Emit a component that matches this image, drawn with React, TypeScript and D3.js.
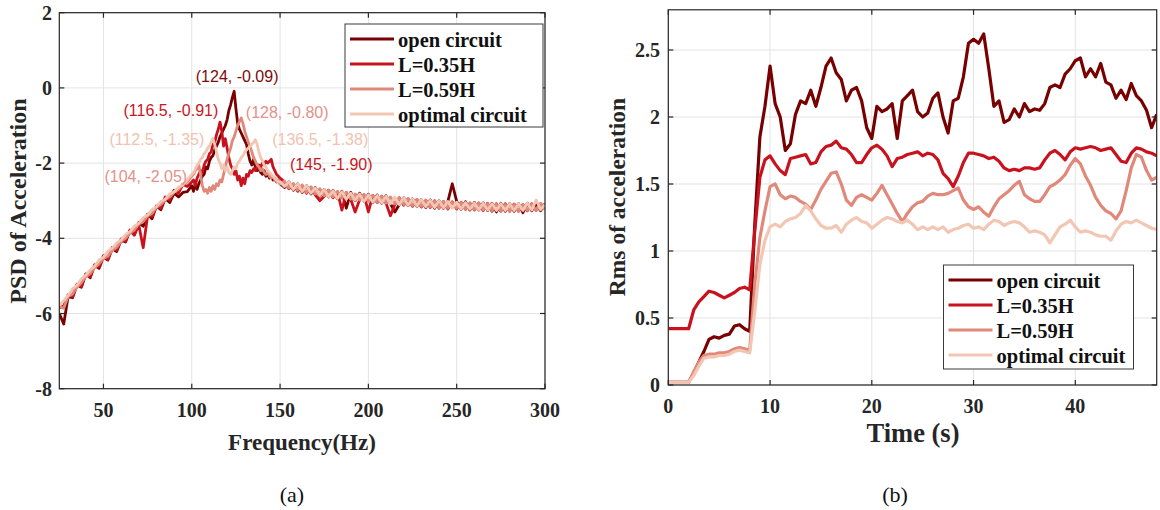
import React from "react";
import * as d3 from "d3";

// ---------- DATA ----------
const SERIES_NAMES = ["open circuit", "L=0.35H", "L=0.59H", "optimal circuit"];
const COLORS = ["#780000", "#c8121e", "#e0897b", "#f3c6b4"];
const LABEL_COLORS = ["#7a0c0c", "#c8161e", "#e3918a", "#f2c2b0"];

// Frequency grid (Hz): 25..97.5 step 2.5, 100..150 step 1, 152.5..300 step 2.5
const FREQ = [
  ...d3.range(25, 100, 2.5),
  ...d3.range(100, 151, 1),
  ...d3.range(152.5, 300.01, 2.5),
];

const PSD_OPEN = [
  -6.0, -6.28, -5.55, -5.58, -5.25, -5.3, -4.95, -5.05, -4.72, -4.8,
  -4.5, -4.58, -4.28, -4.35, -4.05, -4.1, -3.8, -3.9, -3.58, -3.68,
  -3.36, -3.48, -3.14, -3.24, -2.94, -3.05, -2.8, -2.9, -2.78, -2.76,
  -2.6, -2.75, -2.55, -2.7, -2.55, -2.45, -2.35, -2.3, -2.1, -2.15,
  -1.95, -1.85, -1.8, -1.65, -1.55, -1.45, -1.3, -1.2, -1.1, -1.0,
  -0.85, -0.6, -0.45, -0.25, -0.09, -0.55, -0.95, -1.1, -1.2, -1.3,
  -1.4, -1.5, -1.75, -1.95, -2.05, -1.9, -2.1, -2.2, -2.15, -2.25,
  -2.3, -2.2, -2.35, -2.3, -2.4, -2.35, -2.45, -2.4, -2.5, -2.45,
  -2.55,
  -2.65, -2.5, -2.72, -2.55, -2.78, -2.6, -2.82, -2.65, -2.88, -2.7,
  -2.9, -2.73, -2.95, -2.75, -3.2, -2.78, -3.0, -2.8, -3.02, -2.83,
  -3.05, -2.85, -3.07, -2.87, -3.08, -3.3, -3.1, -2.92, -3.13, -2.95,
  -3.15, -2.97, -3.18, -2.98, -3.2, -3.0, -3.2, -3.02, -2.55, -3.02,
  -3.23, -3.03, -3.25, -3.05, -3.25, -3.06, -3.26, -3.07, -3.3, -3.07,
  -3.28, -3.08, -3.28, -3.08, -3.32, -3.07, -3.27, -3.07, -3.27, -3.08,
];

const PSD_L035 = [
  -5.85, -5.8, -5.5, -5.55, -5.22, -5.28, -4.96, -5.02, -4.7, -4.76,
  -4.46, -4.56, -4.24, -4.32, -4.02, -4.08, -3.78, -3.92, -3.64, -4.25,
  -3.4, -3.42, -3.15, -3.2, -2.9, -2.98, -2.72, -2.8, -2.56, -2.62,
  -2.5, -2.45, -2.6, -2.4, -2.3, -2.2, -2.25, -2.05, -1.95, -1.9,
  -1.75, -1.7, -1.5, -1.45, -1.25, -1.1, -0.91, -1.15, -1.55, -1.35,
  -1.6, -1.85, -2.05, -2.15, -2.3, -2.2, -2.45, -2.35, -2.6, -2.4,
  -2.55, -2.3, -2.35, -2.2, -2.25, -2.15, -2.2, -2.1, -2.05, -2.1,
  -2.0, -2.05, -1.95, -2.0, -1.95, -1.9, -2.1, -2.2, -2.3, -2.35,
  -2.4,
  -2.5, -2.68, -2.56, -2.75, -2.6, -2.8, -2.65, -2.85, -3.0, -2.88,
  -2.72, -2.92, -2.76, -3.25, -2.78, -2.96, -3.3, -2.98, -2.84, -3.3,
  -2.86, -3.05, -2.88, -3.07, -3.4, -3.1, -2.92, -3.12, -2.95, -3.15,
  -2.97, -3.17, -2.99, -3.18, -3.0, -3.2, -3.02, -3.22, -3.03, -3.22,
  -3.04, -3.23, -3.06, -3.25, -3.06, -3.26, -3.07, -3.28, -3.08, -3.28,
  -3.08, -3.28, -3.09, -3.28, -3.1, -3.27, -3.08, -3.26, -3.08, -3.22,
];

const PSD_L059 = [
  -5.82, -5.86, -5.55, -5.48, -5.3, -5.18, -5.02, -4.94, -4.78, -4.68,
  -4.54, -4.48, -4.32, -4.24, -4.08, -4.0, -3.86, -3.78, -3.62, -3.56,
  -3.4, -3.34, -3.18, -3.1, -2.98, -2.9, -2.78, -2.7, -2.56, -2.5,
  -2.35, -2.3, -2.2, -2.15, -2.05, -2.3, -2.6, -2.75, -2.7, -2.8,
  -2.65, -2.75, -2.6, -2.7, -2.55, -2.6, -2.45, -2.5, -2.3, -2.1,
  -1.9, -1.75, -1.6, -1.4, -1.3, -1.15, -1.0, -0.9, -0.8, -0.95,
  -1.15, -1.3, -1.45, -1.55, -1.7, -1.85, -1.95, -2.05, -2.1, -2.2,
  -2.15, -2.25, -2.3, -2.25, -2.35, -2.4, -2.35, -2.45, -2.5, -2.45,
  -2.55,
  -2.48, -2.66, -2.54, -2.72, -2.58, -2.78, -2.63, -2.82, -2.68, -2.87,
  -2.72, -2.9, -2.76, -2.93, -2.78, -2.96, -2.82, -2.98, -2.84, -3.02,
  -2.86, -3.04, -2.88, -3.06, -2.9, -3.08, -2.92, -3.1, -2.94, -3.13,
  -2.97, -3.15, -2.99, -3.17, -3.01, -3.19, -3.02, -3.2, -3.04, -3.2,
  -3.05, -3.22, -3.07, -3.24, -3.07, -3.25, -3.08, -3.26, -3.09, -3.27,
  -3.1, -3.27, -3.1, -3.27, -3.1, -3.26, -3.09, -3.26, -3.08, -3.24,
];

const PSD_OPTIMAL = [
  -5.78, -5.66, -5.52, -5.34, -5.25, -5.08, -4.98, -4.84, -4.74, -4.58,
  -4.5, -4.34, -4.26, -4.12, -4.04, -3.9, -3.82, -3.68, -3.6, -3.45,
  -3.38, -3.24, -3.16, -3.02, -2.96, -2.82, -2.76, -2.64, -2.58, -2.44,
  -2.3, -2.25, -2.15, -2.05, -2.0, -1.9, -1.85, -1.75, -1.7, -1.6,
  -1.55, -1.45, -1.35, -1.5, -1.7, -1.9, -2.0, -2.15, -2.05, -2.2,
  -2.1, -2.25, -2.3, -2.2, -2.1, -2.15, -2.0, -1.95, -1.85, -1.8,
  -1.7, -1.65, -1.6, -1.55, -1.5, -1.45, -1.38, -1.5, -1.7, -1.85,
  -1.95, -2.05, -2.1, -2.2, -2.25, -2.3, -2.35, -2.4, -2.45, -2.5,
  -2.5,
  -2.62, -2.5, -2.7, -2.55, -2.76, -2.6, -2.8, -2.66, -2.86, -2.7,
  -2.9, -2.74, -2.94, -2.76, -2.96, -2.8, -2.99, -2.82, -3.02, -2.84,
  -3.04, -2.86, -3.06, -2.88, -3.08, -2.9, -3.1, -2.92, -3.12, -2.95,
  -3.14, -2.97, -3.16, -2.99, -3.18, -3.0, -3.19, -3.02, -3.2, -3.04,
  -3.22, -3.05, -3.23, -3.06, -3.24, -3.07, -3.25, -3.08, -3.26, -3.08,
  -3.26, -3.08, -3.26, -3.08, -3.26, -3.07, -3.25, -2.98, -3.24, -3.1,
];

// Peak annotations on panel (a)
const ANNOT_FREQ = [124, 116.5, 128, 112.5, 136.5, 104, 145];
const ANNOT_VAL = [-0.09, -0.91, -0.8, -1.35, -1.38, -2.05, -1.9];
const ANNOT_SERIES = [0, 1, 2, 3, 3, 2, 1];
const ANNOT_TEXT = ["(124, -0.09)", "(116.5, -0.91)", "(128, -0.80)", "(112.5, -1.35)", "(136.5, -1.38)", "(104, -2.05)", "(145, -1.90)"];

// Time grid (s) 0..48 step 0.5
const TIME = d3.range(0, 48.01, 0.5);

const RMS_OPEN = [
  0.02, 0.02, 0.02, 0.02, 0.02, 0.09, 0.17, 0.25, 0.34, 0.36,
  0.35, 0.37, 0.38, 0.44, 0.45, 0.42, 0.40, 1.2, 1.85, 2.08,
  2.38, 2.1, 2.0, 1.75, 1.8, 2.02, 2.12, 2.1, 2.2, 2.08,
  2.22, 2.38, 2.44, 2.33, 2.28, 2.12, 2.2, 2.22, 2.12, 1.92,
  1.84, 2.08, 2.04, 2.06, 2.1, 1.84, 2.12, 2.16, 2.2, 2.04,
  2.0, 2.03, 2.14, 2.18, 2.0, 1.88, 2.12, 2.14, 2.3, 2.55,
  2.58, 2.55, 2.62, 2.36, 2.08, 2.12, 1.96, 1.98, 2.06, 2.0,
  2.1, 2.04, 2.06, 2.05, 2.1, 2.22, 2.24, 2.22, 2.32, 2.36,
  2.42, 2.44, 2.3, 2.36, 2.3, 2.4, 2.26, 2.24, 2.14, 2.2,
  2.13, 2.25, 2.16, 2.12, 2.05, 1.92, 2.02,
];

const RMS_L035 = [
  0.42, 0.42, 0.42, 0.42, 0.42, 0.56, 0.62, 0.66, 0.70, 0.69,
  0.67, 0.65, 0.67, 0.69, 0.72, 0.73, 0.71, 1.15, 1.55, 1.68,
  1.71, 1.65, 1.6, 1.57, 1.69, 1.7, 1.71, 1.72, 1.65, 1.66,
  1.74, 1.78, 1.79, 1.82, 1.77, 1.76, 1.72, 1.66, 1.66, 1.72,
  1.77, 1.79, 1.76, 1.71, 1.63, 1.69, 1.7, 1.72, 1.73, 1.74,
  1.71, 1.73, 1.72, 1.68, 1.58, 1.54, 1.48, 1.56, 1.66, 1.73,
  1.73, 1.72, 1.71, 1.69, 1.7, 1.67, 1.62, 1.6, 1.61, 1.6,
  1.62, 1.62, 1.61, 1.62, 1.68, 1.73, 1.75, 1.72, 1.68, 1.74,
  1.77, 1.76, 1.77, 1.78, 1.77, 1.75, 1.76, 1.77, 1.72, 1.67,
  1.66, 1.73, 1.77, 1.76, 1.74, 1.73, 1.71,
];

const RMS_L059 = [
  0.02, 0.02, 0.02, 0.02, 0.02, 0.1, 0.17, 0.22, 0.23, 0.23,
  0.24, 0.24, 0.25, 0.27, 0.28, 0.27, 0.26, 0.75, 1.1, 1.3,
  1.48, 1.5, 1.42, 1.39, 1.41, 1.4, 1.37, 1.35, 1.31, 1.38,
  1.46, 1.52, 1.58, 1.59, 1.5, 1.38, 1.34, 1.4, 1.42, 1.4,
  1.38, 1.43, 1.49, 1.42, 1.35, 1.28, 1.22, 1.28, 1.33, 1.36,
  1.37, 1.41, 1.43, 1.42, 1.42, 1.43, 1.45, 1.47, 1.38, 1.33,
  1.31, 1.33, 1.29, 1.26, 1.33, 1.39, 1.42, 1.45, 1.49, 1.52,
  1.42, 1.39, 1.37, 1.37, 1.42, 1.48, 1.5, 1.53, 1.57, 1.64,
  1.69, 1.65, 1.56, 1.49, 1.4, 1.34, 1.3, 1.28, 1.24, 1.3,
  1.45, 1.62, 1.72, 1.7, 1.6, 1.53, 1.55,
];

const RMS_OPTIMAL = [
  0.02, 0.02, 0.02, 0.02, 0.02, 0.07, 0.14, 0.2, 0.21, 0.21,
  0.22, 0.22, 0.23, 0.25, 0.26, 0.25, 0.24, 0.55, 0.9, 1.08,
  1.18, 1.2, 1.18, 1.22, 1.24, 1.25, 1.28, 1.34, 1.3, 1.24,
  1.19, 1.17, 1.17, 1.19, 1.14, 1.2, 1.23, 1.25, 1.22, 1.21,
  1.17, 1.2, 1.23, 1.25, 1.24, 1.22, 1.21, 1.23, 1.2, 1.16,
  1.18, 1.16, 1.18, 1.16, 1.18, 1.14, 1.16, 1.17, 1.19, 1.2,
  1.17, 1.18, 1.16, 1.2, 1.23, 1.22, 1.19, 1.21, 1.22, 1.21,
  1.18, 1.14, 1.15, 1.14, 1.12, 1.06, 1.12, 1.18, 1.2, 1.23,
  1.18, 1.14, 1.15, 1.14, 1.12, 1.11, 1.11, 1.08, 1.15, 1.2,
  1.22, 1.21, 1.23, 1.21, 1.19, 1.17, 1.16,
];

const PSD_X_TICKS = [50, 100, 150, 200, 250, 300];
const PSD_Y_TICKS = [-8, -6, -4, -2, 0, 2];
const RMS_X_TICKS = [0, 10, 20, 30, 40];
const RMS_Y_TICKS = [0, 0.5, 1, 1.5, 2, 2.5];

// ---------- LAYOUT ----------
const W = 1160;
const H = 510;
const SERIF = "'Liberation Serif', 'Times New Roman', serif";
const SANS = "'Liberation Sans', Arial, sans-serif";
const AXIS_COLOR = "#262626";
const GRID_COLOR = "#e3e3e3";
const TICK_LEN = 5;

const ANNOT_OFFSETS: [number, number][] = [
  [3, -15], [-50, -12], [46, -6], [-57, 1], [64, 0], [-53, 11], [60, 5],
];

type Legend = { x: number; y: number; w: number; h: number };

function LegendBox({ box }: { box: Legend }) {
  return (
    <g>
      <rect x={box.x} y={box.y} width={box.w} height={box.h} fill="#fff" stroke="#3a3a3a" strokeWidth={1} />
      {SERIES_NAMES.map((name, i) => {
        const cy = box.y + 15 + i * 25;
        return (
          <g key={name}>
            <line x1={box.x + 5} x2={box.x + 49} y1={cy} y2={cy} stroke={COLORS[i]} strokeWidth={3.2} />
            <text x={box.x + 53} y={cy + 7.5} fontFamily={SERIF} fontWeight="bold" fontSize={20.5} fill="#111">
              {name}
            </text>
          </g>
        );
      })}
    </g>
  );
}

function Grid({ x, y, xTicks, yTicks }: any) {
  const [x0, x1] = x.range();
  const [y0, y1] = y.range();
  return (
    <g>
      {xTicks.map((t: number) => (
        <line key={"gx" + t} x1={x(t)} x2={x(t)} y1={y0} y2={y1} stroke={GRID_COLOR} strokeWidth={1} />
      ))}
      {yTicks.map((t: number) => (
        <line key={"gy" + t} x1={x0} x2={x1} y1={y(t)} y2={y(t)} stroke={GRID_COLOR} strokeWidth={1} />
      ))}
    </g>
  );
}

function Axes({ x, y, xTicks, yTicks, xFmt, yFmt, xLabelBase, yLabelRight }: any) {
  const [x0, x1] = x.range();
  const [y0, y1] = y.range();
  return (
    <g>
      <rect x={x0} y={y1} width={x1 - x0} height={y0 - y1} fill="none" stroke={AXIS_COLOR} strokeWidth={1.2} />
      {xTicks.map((t: number) => (
        <g key={"tx" + t}>
          <line x1={x(t)} x2={x(t)} y1={y0} y2={y0 - TICK_LEN} stroke={AXIS_COLOR} strokeWidth={1.2} />
          <line x1={x(t)} x2={x(t)} y1={y1} y2={y1 + TICK_LEN} stroke={AXIS_COLOR} strokeWidth={1.2} />
          <text x={x(t)} y={xLabelBase} textAnchor="middle" fontFamily={SERIF} fontWeight="bold" fontSize={20} fill={AXIS_COLOR}>
            {xFmt(t)}
          </text>
        </g>
      ))}
      {yTicks.map((t: number) => (
        <g key={"ty" + t}>
          <line x1={x0} x2={x0 + TICK_LEN} y1={y(t)} y2={y(t)} stroke={AXIS_COLOR} strokeWidth={1.2} />
          <line x1={x1} x2={x1 - TICK_LEN} y1={y(t)} y2={y(t)} stroke={AXIS_COLOR} strokeWidth={1.2} />
          <text x={yLabelRight} y={y(t)} dy="0.35em" textAnchor="end" fontFamily={SERIF} fontWeight="bold" fontSize={20} fill={AXIS_COLOR}>
            {yFmt(t)}
          </text>
        </g>
      ))}
    </g>
  );
}

export default function App() {
  // Panel (a)
  const xA = d3.scaleLinear().domain([25, 300]).range([59.3, 545]);
  const yA = d3.scaleLinear().domain([-8, 2]).range([388.7, 12.7]);
  // Panel (b)
  const xB = d3.scaleLinear().domain([0, 48]).range([668.3, 1156.7]);
  const yB = d3.scaleLinear().domain([0, 2.8]).range([385, 9.8]);

  const psd = [PSD_OPEN, PSD_L035, PSD_L059, PSD_OPTIMAL];
  const rms = [RMS_OPEN, RMS_L035, RMS_L059, RMS_OPTIMAL];

  const lineA = d3
    .line<number>()
    .x((_, i) => xA(FREQ[i]))
    .y((v) => yA(v));
  const lineB = d3
    .line<number>()
    .x((_, i) => xB(TIME[i]))
    .y((v) => yB(v));

  return (
    <svg
      width={W}
      height={H}
      viewBox={`0 0 ${W} ${H}`}
      style={{ position: "absolute", left: 0, top: 0, background: "#fff" }}
    >
      <defs>
        <clipPath id="clipA">
          <rect x={59.3} y={12.7} width={545 - 59.3} height={388.7 - 12.7} />
        </clipPath>
        <clipPath id="clipB">
          <rect x={668.3} y={9.8} width={1156.7 - 668.3} height={385 - 9.8} />
        </clipPath>
      </defs>
      <rect x={0} y={0} width={W} height={H} fill="#fff" />

      {/* ---------- Panel (a) ---------- */}
      <Grid x={xA} y={yA} xTicks={PSD_X_TICKS} yTicks={PSD_Y_TICKS} />
      <g clipPath="url(#clipA)">
        {psd.map((s, i) => (
          <path key={i} d={lineA(s) || ""} fill="none" stroke={COLORS[i]} strokeWidth={2.8} strokeLinejoin="round" />
        ))}
      </g>
      {ANNOT_TEXT.map((t, i) => {
        const [dx, dy] = ANNOT_OFFSETS[i];
        return (
          <text
            key={t}
            x={xA(ANNOT_FREQ[i]) + dx}
            y={yA(ANNOT_VAL[i]) + dy}
            dy="0.35em"
            textAnchor="middle"
            fontFamily={SANS}
            fontSize={16}
            fill={LABEL_COLORS[ANNOT_SERIES[i]]}
          >
            {t}
          </text>
        );
      })}
      <Axes
        x={xA}
        y={yA}
        xTicks={PSD_X_TICKS}
        yTicks={PSD_Y_TICKS}
        xFmt={(t: number) => String(t)}
        yFmt={(t: number) => String(t)}
        xLabelBase={417}
        yLabelRight={52}
      />
      <LegendBox box={{ x: 345, y: 24, w: 198, h: 103 }} />
      <text x={302} y={450} textAnchor="middle" fontFamily={SERIF} fontWeight="bold" fontSize={23} fill={AXIS_COLOR}>
        Frequency(Hz)
      </text>
      <text
        transform={`translate(18,201) rotate(-90)`}
        textAnchor="middle"
        dominantBaseline="central"
        fontFamily={SERIF}
        fontWeight="bold"
        fontSize={24}
        fill={AXIS_COLOR}
      >
        PSD of Acceleration
      </text>
      <text x={292} y={502} textAnchor="middle" fontFamily={SERIF} fontSize={22} fill="#111">
        (a)
      </text>

      {/* ---------- Panel (b) ---------- */}
      <Grid x={xB} y={yB} xTicks={RMS_X_TICKS} yTicks={RMS_Y_TICKS} />
      <g clipPath="url(#clipB)">
        {rms.map((s, i) => (
          <path key={i} d={lineB(s) || ""} fill="none" stroke={COLORS[i]} strokeWidth={3.2} strokeLinejoin="round" />
        ))}
      </g>
      <Axes
        x={xB}
        y={yB}
        xTicks={RMS_X_TICKS}
        yTicks={RMS_Y_TICKS}
        xFmt={(t: number) => String(t)}
        yFmt={(t: number) => String(t)}
        xLabelBase={413}
        yLabelRight={660}
      />
      <LegendBox box={{ x: 943.5, y: 265, w: 190, h: 104 }} />
      <text x={913} y={442} textAnchor="middle" fontFamily={SERIF} fontWeight="bold" fontSize={26.5} fill={AXIS_COLOR}>
        Time (s)
      </text>
      <text
        transform={`translate(617,197) rotate(-90)`}
        textAnchor="middle"
        dominantBaseline="central"
        fontFamily={SERIF}
        fontWeight="bold"
        fontSize={23.5}
        fill={AXIS_COLOR}
      >
        Rms of acceleration
      </text>
      <text x={895} y={502} textAnchor="middle" fontFamily={SERIF} fontSize={22} fill="#111">
        (b)
      </text>
    </svg>
  );
}
